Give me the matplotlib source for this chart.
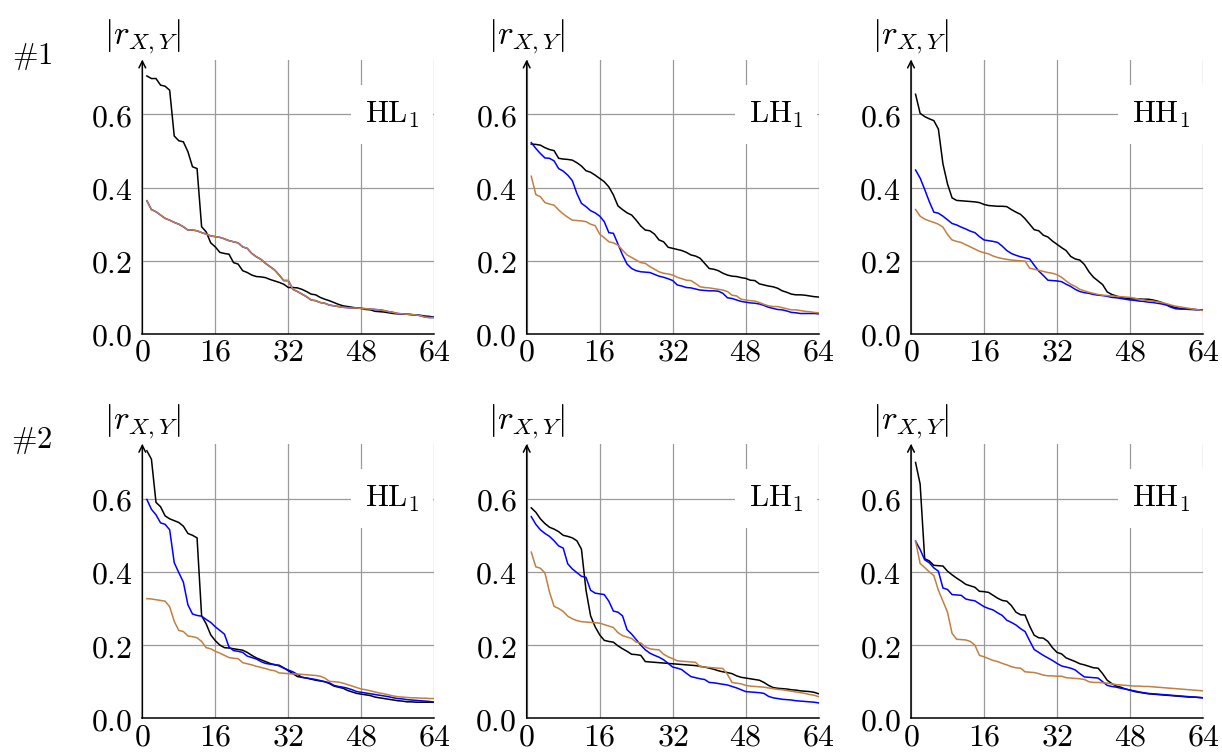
import numpy as np
import matplotlib
matplotlib.use("Agg")
import matplotlib.pyplot as plt

plt.rcParams['mathtext.fontset'] = 'cm'
plt.rcParams['font.family'] = ['DejaVu Serif']

# index of the sorted coefficients
idx = np.arange(1, 65)

xticks = [0, 16, 32, 48, 64]
yticks = [0.0, 0.2, 0.4, 0.6]
row_labels = ['#1', '#2']
band_labels = ['HL', 'LH', 'HH']

# ---- row #1 ----
r1_hl_black = [0.705, 0.698, 0.698, 0.680, 0.677, 0.666, 0.541, 0.528, 0.525, 0.498, 0.457, 0.452, 0.293, 0.279, 0.249, 0.238,
               0.223, 0.220, 0.218, 0.195, 0.191, 0.173, 0.168, 0.161, 0.157, 0.156, 0.154, 0.149, 0.145, 0.141, 0.136, 0.127,
               0.127, 0.126, 0.122, 0.116, 0.109, 0.107, 0.100, 0.095, 0.091, 0.086, 0.081, 0.077, 0.075, 0.073, 0.071, 0.070,
               0.067, 0.066, 0.062, 0.061, 0.060, 0.058, 0.056, 0.055, 0.054, 0.054, 0.053, 0.052, 0.051, 0.049, 0.048, 0.046]
r1_hl_brown = [0.364, 0.340, 0.334, 0.325, 0.316, 0.311, 0.305, 0.300, 0.293, 0.284, 0.284, 0.282, 0.277, 0.273, 0.268, 0.266,
               0.264, 0.260, 0.255, 0.252, 0.249, 0.238, 0.234, 0.220, 0.211, 0.204, 0.193, 0.184, 0.175, 0.161, 0.146, 0.146,
               0.122, 0.116, 0.109, 0.102, 0.093, 0.091, 0.086, 0.084, 0.079, 0.077, 0.075, 0.073, 0.072, 0.071, 0.071, 0.070,
               0.069, 0.068, 0.067, 0.066, 0.064, 0.061, 0.059, 0.056, 0.055, 0.054, 0.053, 0.052, 0.050, 0.046, 0.045, 0.045]
# blue lies right under the brown curve here
r1_hl_blue = list(r1_hl_brown)

r1_lh_black = [0.519, 0.518, 0.516, 0.509, 0.504, 0.501, 0.480, 0.478, 0.477, 0.475, 0.468, 0.459, 0.446, 0.442, 0.434, 0.425,
               0.416, 0.402, 0.380, 0.350, 0.340, 0.331, 0.325, 0.311, 0.295, 0.284, 0.282, 0.273, 0.257, 0.252, 0.237, 0.234,
               0.231, 0.228, 0.223, 0.216, 0.213, 0.207, 0.193, 0.179, 0.177, 0.173, 0.166, 0.161, 0.158, 0.157, 0.154, 0.152,
               0.147, 0.146, 0.137, 0.134, 0.131, 0.129, 0.125, 0.118, 0.114, 0.109, 0.107, 0.107, 0.106, 0.104, 0.102, 0.101]
r1_lh_blue = [0.523, 0.507, 0.493, 0.481, 0.480, 0.473, 0.452, 0.445, 0.434, 0.419, 0.384, 0.357, 0.348, 0.337, 0.331, 0.322,
              0.307, 0.277, 0.275, 0.246, 0.216, 0.191, 0.179, 0.173, 0.170, 0.169, 0.168, 0.163, 0.158, 0.155, 0.151, 0.146,
              0.134, 0.131, 0.127, 0.126, 0.123, 0.120, 0.119, 0.118, 0.118, 0.117, 0.111, 0.099, 0.097, 0.093, 0.089, 0.087,
              0.085, 0.084, 0.082, 0.078, 0.073, 0.070, 0.067, 0.066, 0.063, 0.059, 0.058, 0.056, 0.056, 0.056, 0.056, 0.055]
r1_lh_brown = [0.431, 0.381, 0.375, 0.359, 0.355, 0.352, 0.339, 0.328, 0.319, 0.311, 0.310, 0.309, 0.307, 0.300, 0.296, 0.273,
               0.263, 0.252, 0.249, 0.243, 0.229, 0.216, 0.209, 0.202, 0.195, 0.193, 0.184, 0.177, 0.170, 0.166, 0.164, 0.161,
               0.155, 0.151, 0.147, 0.146, 0.138, 0.129, 0.127, 0.126, 0.124, 0.122, 0.120, 0.116, 0.106, 0.104, 0.095, 0.093,
               0.091, 0.090, 0.086, 0.081, 0.077, 0.075, 0.075, 0.072, 0.069, 0.066, 0.066, 0.064, 0.062, 0.061, 0.059, 0.058]

r1_hh_black = [0.655, 0.603, 0.594, 0.588, 0.583, 0.560, 0.465, 0.410, 0.372, 0.365, 0.364, 0.363, 0.362, 0.361, 0.359, 0.354,
               0.351, 0.350, 0.349, 0.349, 0.348, 0.340, 0.333, 0.327, 0.315, 0.300, 0.285, 0.282, 0.270, 0.265, 0.254, 0.245,
               0.236, 0.228, 0.212, 0.205, 0.202, 0.190, 0.170, 0.155, 0.145, 0.135, 0.115, 0.108, 0.104, 0.100, 0.098, 0.096,
               0.096, 0.096, 0.095, 0.095, 0.093, 0.090, 0.086, 0.080, 0.076, 0.072, 0.070, 0.069, 0.068, 0.067, 0.066, 0.065]
r1_hh_blue = [0.448, 0.426, 0.395, 0.362, 0.333, 0.330, 0.322, 0.312, 0.302, 0.298, 0.292, 0.287, 0.281, 0.277, 0.266, 0.257,
              0.255, 0.253, 0.250, 0.240, 0.228, 0.220, 0.215, 0.211, 0.208, 0.205, 0.188, 0.172, 0.160, 0.147, 0.146, 0.145,
              0.143, 0.136, 0.130, 0.122, 0.116, 0.113, 0.111, 0.108, 0.106, 0.105, 0.103, 0.100, 0.099, 0.097, 0.095, 0.093,
              0.092, 0.090, 0.089, 0.087, 0.086, 0.084, 0.082, 0.079, 0.073, 0.069, 0.068, 0.068, 0.067, 0.067, 0.066, 0.065]
r1_hh_brown = [0.340, 0.322, 0.314, 0.309, 0.305, 0.300, 0.292, 0.272, 0.257, 0.253, 0.250, 0.244, 0.238, 0.232, 0.226, 0.222,
               0.219, 0.213, 0.209, 0.206, 0.204, 0.202, 0.201, 0.200, 0.199, 0.180, 0.177, 0.174, 0.171, 0.168, 0.166, 0.162,
               0.155, 0.145, 0.136, 0.130, 0.122, 0.118, 0.114, 0.111, 0.108, 0.106, 0.105, 0.104, 0.103, 0.102, 0.101, 0.100,
               0.098, 0.095, 0.093, 0.091, 0.090, 0.088, 0.086, 0.083, 0.079, 0.076, 0.074, 0.072, 0.070, 0.068, 0.066, 0.064]

# ---- row #2 ----
r2_hl_black = [0.731, 0.708, 0.590, 0.578, 0.553, 0.545, 0.540, 0.535, 0.525, 0.505, 0.500, 0.493, 0.280, 0.258, 0.228, 0.212,
               0.200, 0.193, 0.192, 0.190, 0.188, 0.186, 0.180, 0.172, 0.165, 0.160, 0.155, 0.150, 0.146, 0.145, 0.138, 0.130,
               0.122, 0.114, 0.112, 0.110, 0.107, 0.104, 0.102, 0.100, 0.095, 0.088, 0.085, 0.082, 0.076, 0.072, 0.068, 0.066,
               0.064, 0.062, 0.058, 0.056, 0.054, 0.052, 0.050, 0.048, 0.047, 0.045, 0.045, 0.044, 0.044, 0.044, 0.044, 0.044]
r2_hl_blue = [0.598, 0.571, 0.556, 0.534, 0.530, 0.515, 0.425, 0.398, 0.372, 0.310, 0.285, 0.281, 0.279, 0.270, 0.262, 0.250,
              0.240, 0.230, 0.195, 0.185, 0.183, 0.180, 0.170, 0.166, 0.162, 0.155, 0.150, 0.148, 0.147, 0.143, 0.137, 0.132,
              0.127, 0.120, 0.112, 0.110, 0.108, 0.106, 0.103, 0.100, 0.097, 0.090, 0.087, 0.085, 0.082, 0.078, 0.073, 0.071,
              0.069, 0.067, 0.065, 0.063, 0.061, 0.059, 0.056, 0.054, 0.053, 0.051, 0.050, 0.049, 0.048, 0.047, 0.046, 0.044]
r2_hl_brown = [0.327, 0.326, 0.324, 0.322, 0.320, 0.305, 0.265, 0.240, 0.237, 0.225, 0.223, 0.220, 0.210, 0.193, 0.190, 0.183,
               0.178, 0.172, 0.166, 0.164, 0.163, 0.152, 0.149, 0.146, 0.142, 0.139, 0.136, 0.132, 0.130, 0.124, 0.123, 0.122,
               0.121, 0.121, 0.120, 0.119, 0.118, 0.117, 0.115, 0.110, 0.101, 0.100, 0.099, 0.096, 0.092, 0.088, 0.084, 0.080,
               0.078, 0.075, 0.072, 0.069, 0.067, 0.064, 0.061, 0.059, 0.058, 0.057, 0.056, 0.056, 0.055, 0.055, 0.054, 0.054]

r2_lh_black = [0.575, 0.563, 0.545, 0.532, 0.522, 0.517, 0.510, 0.500, 0.497, 0.493, 0.485, 0.462, 0.350, 0.280, 0.250, 0.228,
               0.213, 0.210, 0.208, 0.198, 0.190, 0.183, 0.175, 0.174, 0.172, 0.155, 0.154, 0.153, 0.152, 0.151, 0.150, 0.149,
               0.148, 0.147, 0.146, 0.145, 0.144, 0.142, 0.140, 0.137, 0.134, 0.130, 0.127, 0.125, 0.122, 0.116, 0.112, 0.110,
               0.108, 0.106, 0.104, 0.098, 0.090, 0.084, 0.082, 0.081, 0.080, 0.078, 0.077, 0.075, 0.074, 0.073, 0.071, 0.067]
r2_lh_blue = [0.551, 0.530, 0.515, 0.505, 0.497, 0.485, 0.471, 0.465, 0.422, 0.408, 0.398, 0.388, 0.385, 0.350, 0.342, 0.340,
              0.338, 0.320, 0.293, 0.290, 0.280, 0.242, 0.230, 0.215, 0.200, 0.187, 0.178, 0.172, 0.167, 0.160, 0.150, 0.140,
              0.137, 0.133, 0.123, 0.114, 0.111, 0.108, 0.106, 0.098, 0.097, 0.095, 0.093, 0.091, 0.087, 0.083, 0.078, 0.073,
              0.072, 0.071, 0.070, 0.068, 0.060, 0.056, 0.054, 0.052, 0.051, 0.050, 0.048, 0.047, 0.046, 0.045, 0.044, 0.042]
r2_lh_brown = [0.454, 0.414, 0.410, 0.397, 0.345, 0.306, 0.300, 0.292, 0.279, 0.272, 0.267, 0.264, 0.263, 0.262, 0.261, 0.260,
               0.256, 0.252, 0.248, 0.234, 0.226, 0.222, 0.218, 0.208, 0.206, 0.195, 0.190, 0.188, 0.187, 0.175, 0.168, 0.163,
               0.157, 0.156, 0.155, 0.154, 0.153, 0.141, 0.140, 0.139, 0.138, 0.137, 0.136, 0.120, 0.098, 0.096, 0.094, 0.090,
               0.088, 0.087, 0.086, 0.085, 0.083, 0.081, 0.079, 0.078, 0.076, 0.074, 0.072, 0.070, 0.068, 0.065, 0.063, 0.059]

r2_hh_black = [0.699, 0.640, 0.436, 0.430, 0.418, 0.417, 0.416, 0.402, 0.392, 0.383, 0.375, 0.366, 0.362, 0.358, 0.347, 0.346,
               0.344, 0.336, 0.328, 0.322, 0.320, 0.308, 0.290, 0.283, 0.282, 0.252, 0.227, 0.220, 0.219, 0.210, 0.193, 0.180,
               0.176, 0.165, 0.160, 0.155, 0.149, 0.146, 0.142, 0.138, 0.137, 0.122, 0.104, 0.095, 0.088, 0.085, 0.080, 0.077,
               0.073, 0.071, 0.069, 0.067, 0.066, 0.065, 0.064, 0.063, 0.062, 0.061, 0.060, 0.059, 0.058, 0.058, 0.057, 0.056]
r2_hh_blue = [0.484, 0.461, 0.433, 0.425, 0.411, 0.402, 0.356, 0.352, 0.338, 0.337, 0.336, 0.326, 0.323, 0.321, 0.313, 0.305,
              0.300, 0.296, 0.288, 0.281, 0.268, 0.262, 0.255, 0.245, 0.237, 0.212, 0.188, 0.180, 0.172, 0.165, 0.158, 0.150,
              0.143, 0.140, 0.137, 0.132, 0.122, 0.113, 0.112, 0.111, 0.110, 0.100, 0.090, 0.087, 0.085, 0.082, 0.080, 0.077,
              0.075, 0.072, 0.070, 0.068, 0.067, 0.066, 0.065, 0.064, 0.063, 0.062, 0.061, 0.060, 0.059, 0.058, 0.057, 0.056]
r2_hh_brown = [0.484, 0.423, 0.412, 0.400, 0.390, 0.350, 0.320, 0.290, 0.232, 0.216, 0.215, 0.214, 0.210, 0.200, 0.172, 0.168,
               0.163, 0.158, 0.155, 0.150, 0.146, 0.141, 0.138, 0.137, 0.127, 0.126, 0.125, 0.122, 0.118, 0.116, 0.116, 0.115,
               0.115, 0.111, 0.110, 0.109, 0.108, 0.106, 0.100, 0.098, 0.098, 0.097, 0.096, 0.094, 0.092, 0.091, 0.090, 0.089,
               0.088, 0.088, 0.087, 0.087, 0.086, 0.085, 0.084, 0.083, 0.082, 0.081, 0.080, 0.079, 0.078, 0.077, 0.076, 0.075]

rows = [
    [(r1_hl_black, r1_hl_blue, r1_hl_brown), (r1_lh_black, r1_lh_blue, r1_lh_brown), (r1_hh_black, r1_hh_blue, r1_hh_brown)],
    [(r2_hl_black, r2_hl_blue, r2_hl_brown), (r2_lh_black, r2_lh_blue, r2_lh_brown), (r2_hh_black, r2_hh_blue, r2_hh_brown)],
]

W, H = 1222, 754
fig = plt.figure(figsize=(W / 100, H / 100), dpi=100)

lefts = [142.3, 526.7, 911.0]     # pixel x of the y axis
bottoms = [334.0, 718.3]          # pixel y of the x axis
ax_w = 292.0
ax_h = 274.5
FS = 22
colors = ['black', '#0000ff', '#bf8040']

for r, row in enumerate(rows):
    for c, series in enumerate(row):
        ax = fig.add_axes([lefts[c] / W, (H - bottoms[r]) / H, ax_w / W, ax_h / H])
        ax.set_axisbelow(True)
        for ys, col in zip(series, colors):
            ax.plot(idx, ys, color=col, lw=1.1, solid_joinstyle='miter')
        ax.set_xlim(0, 64)
        ax.set_ylim(0, 0.75)
        ax.set_xticks(xticks, labels=['$%d$' % t for t in xticks])
        ax.set_yticks(yticks, labels=['$%.1f$' % t for t in yticks])
        ax.tick_params(length=0, labelsize=FS + 1)
        ax.tick_params(axis='x', pad=2)
        ax.tick_params(axis='y', pad=7)
        ax.grid(True, color='#9a9a9a', lw=0.9)
        for s in ['top', 'right', 'left']:
            ax.spines[s].set_visible(False)
        ax.spines['bottom'].set_linewidth(1.1)
        # y axis with arrow head
        ax.annotate('', xy=(0, 1.0), xytext=(0, 0), xycoords='axes fraction',
                    arrowprops=dict(arrowstyle='->', lw=1.1, color='black',
                                    shrinkA=0, shrinkB=0, mutation_scale=12))
        ax.text(0, 1.082, r'$|r_{X,Y}|$', transform=ax.transAxes, ha='center', va='center', fontsize=FS + 2)
        ax.text(54.7, 0.6, r'$\mathrm{%s}_1$' % band_labels[c], ha='center', va='center', fontsize=FS,
                bbox=dict(boxstyle='square,pad=0.45', fc='white', ec='none'))
    fig.text(32 / W, 1 - (56 + 384 * r) / H, r'$\#%s$' % row_labels[r][1:], ha='center', va='center', fontsize=FS)

fig.savefig('out.png', dpi=100)
